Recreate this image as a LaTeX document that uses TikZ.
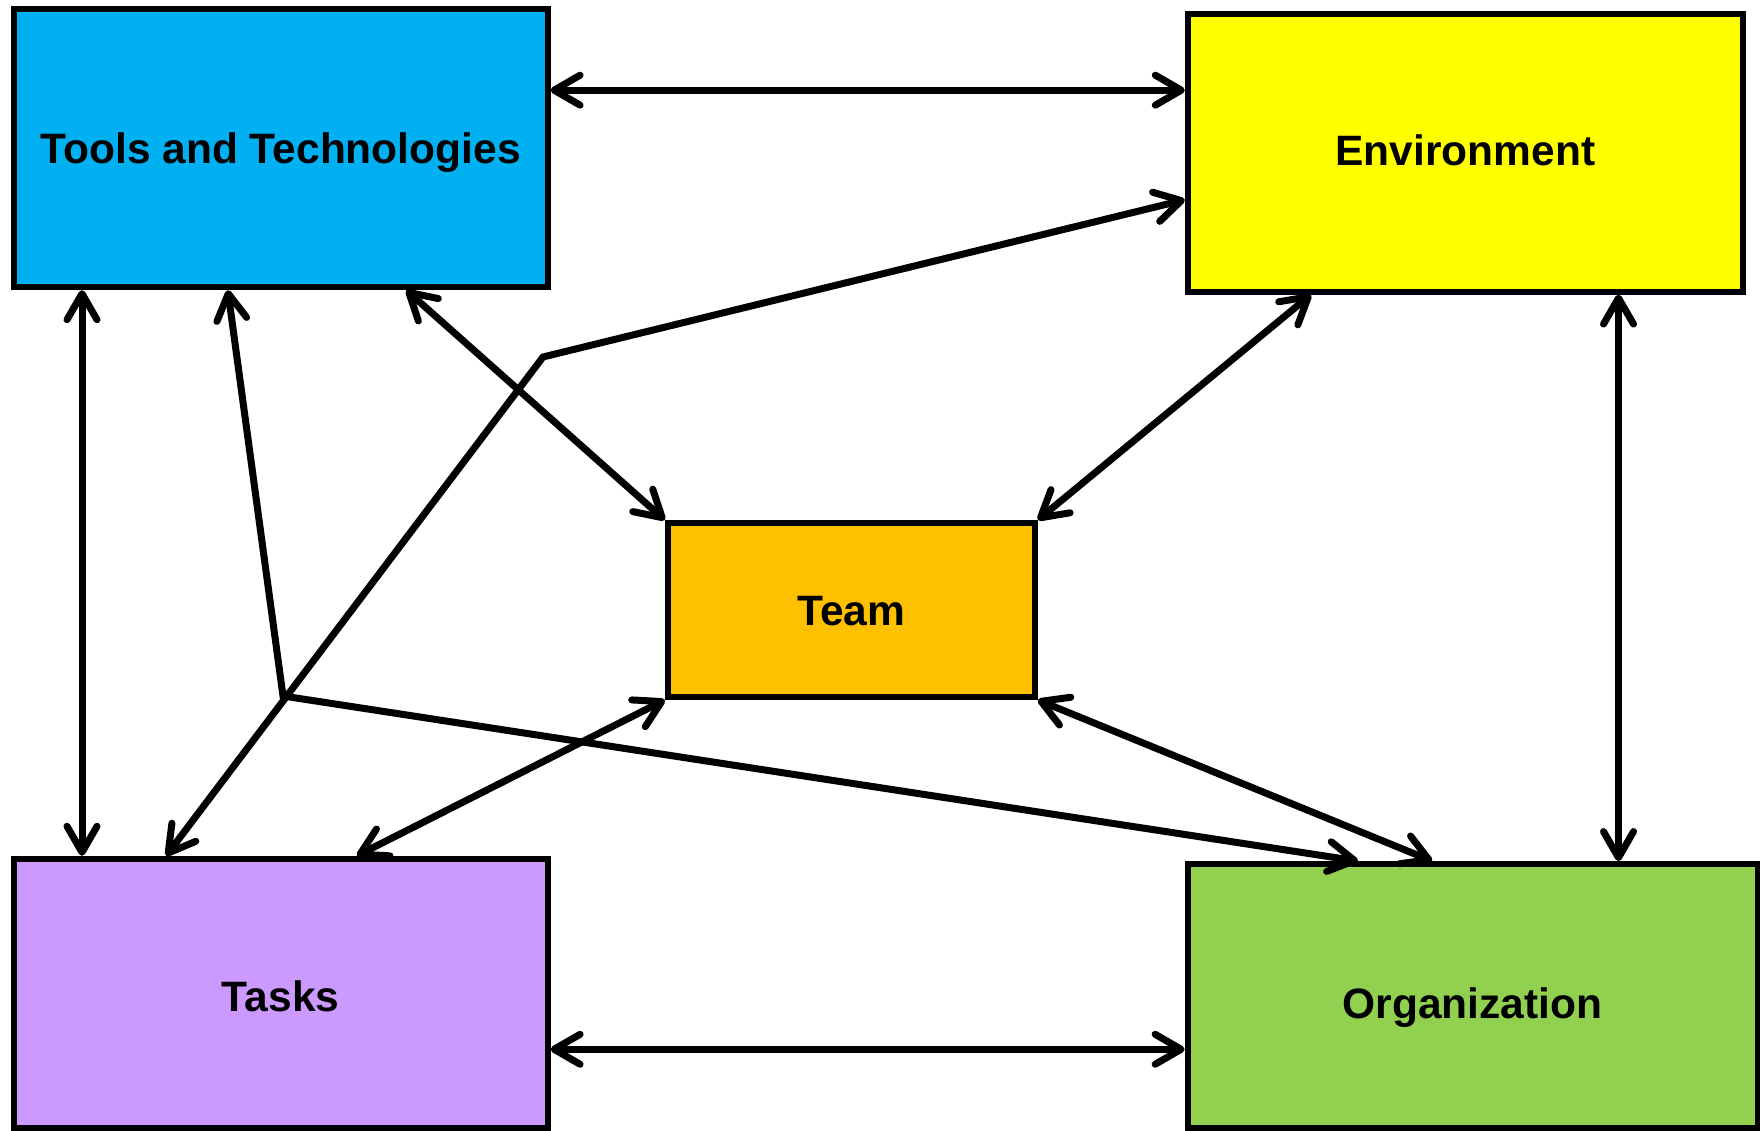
\documentclass[tikz,border=0pt]{standalone}
\usepackage{fontspec}
\setmainfont{Liberation Sans}
\usetikzlibrary{arrows.meta}
\definecolor{toolsblue}{HTML}{00B0F0}
\definecolor{envyellow}{HTML}{FFFF00}
\definecolor{teamorange}{HTML}{FFC000}
\definecolor{taskslilac}{HTML}{CC99FF}
\definecolor{orggreen}{HTML}{92D050}
\begin{document}
\begin{tikzpicture}[x=1pt,y=1pt,
        box/.style={draw,line width=6pt,inner sep=0pt,text height=30.4pt,text depth=0pt,
            font=\fontsize{42.5}{48}\selectfont\bfseries},
        link/.style={line width=7pt,
            {Straight Barb[length=26pt,width=30pt,round]}-{Straight Barb[length=26pt,width=30pt,round]}}]
        \useasboundingbox (0,0) rectangle (1760,1131);
        %riquadri
        \node[box,fill=toolsblue,minimum width=534pt,minimum height=278pt](tools) at (280.6,982.8){Tools and Technologies};
        \node[box,fill=envyellow,minimum width=555pt,minimum height=278pt,text height=25.2pt](env) at (1465.3,978.4){Environment};
        \node[box,fill=teamorange,minimum width=367pt,minimum height=174pt](team) at (851.3,521){Team};
        \node[box,fill=taskslilac,minimum width=534pt,minimum height=269pt,text height=37.2pt](tasks) at (280.6,137.7){Tasks};
        \node[box,fill=orggreen,minimum width=570pt,minimum height=264pt,text height=44.4pt](org) at (1472.6,134.9){Organization};
        %frecce orizzontali e verticali
        \draw[link]([yshift=58pt]tools.east)--([yshift=58pt]tools.east -| env.west);
        \draw[link]([yshift=-56pt]tasks.east)--([yshift=-56pt]tasks.east -| org.west);
        \draw[link]([xshift=-198.6pt]tools.south)--([xshift=-198.6pt]tools.south |- tasks.north);
        \draw[link]([xshift=153.2pt]env.south)--([xshift=153.2pt]env.south |- org.north);
        %frecce verso team
        \draw[link]([xshift=125.7pt]tools.south)--(team.north west);
        \draw[link]([xshift=-154.3pt]env.south)--(team.north east);
        \draw[link](team.south west)--([xshift=76.3pt]tasks.north);
        \draw[link](team.south east)--([xshift=-40.4pt]org.north);
        %frecce spezzate
        \coordinate (gomito1) at (543,774);
        \coordinate (gomito2) at (283,435);
        \draw[link]([xshift=-114.5pt]tasks.north)--(gomito1)--([yshift=-47.2pt]env.west);
        \draw[link]([xshift=-52.8pt]tools.south)--(gomito2)--([xshift=-114.5pt]org.north);
    \end{tikzpicture}
\end{document}
